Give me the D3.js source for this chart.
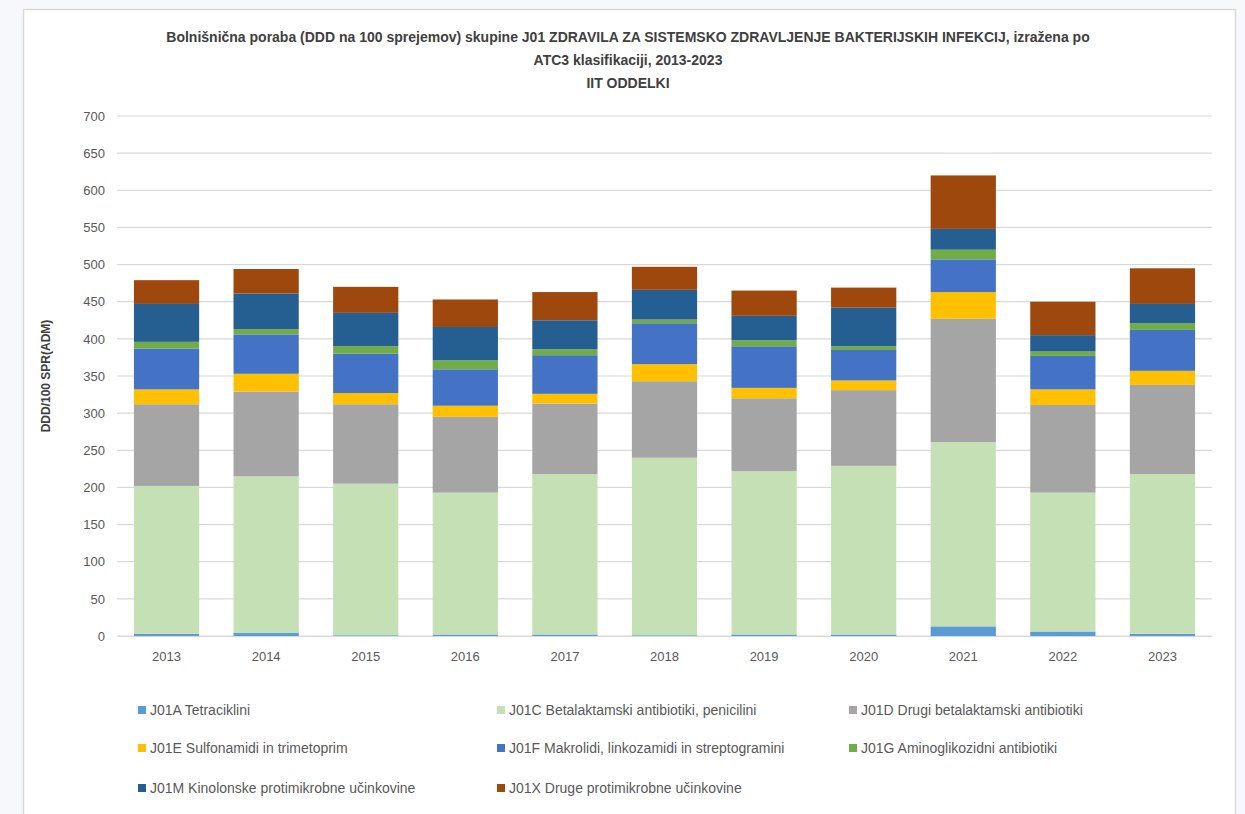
<!DOCTYPE html>
<html>
<head>
<meta charset="utf-8">
<script src="https://cdn.jsdelivr.net/npm/d3@7"></script>
<style>
html,body{margin:0;padding:0;background:#f6f8fb;}
svg{display:block;}
text{font-family:"Liberation Sans Narrow","Liberation Sans",Arial,sans-serif;}
</style>
</head>
<body>
<svg id="chart" width="1245" height="814"></svg>
<script>
const years = ["2013","2014","2015","2016","2017","2018","2019","2020","2021","2022","2023"];
const seriesNames = [
  "J01A Tetraciklini",
  "J01C Betalaktamski antibiotiki, penicilini",
  "J01D Drugi betalaktamski antibiotiki",
  "J01E Sulfonamidi in trimetoprim",
  "J01F Makrolidi, linkozamidi in streptogramini",
  "J01G Aminoglikozidni antibiotiki",
  "J01M Kinolonske protimikrobne učinkovine",
  "J01X Druge protimikrobne učinkovine"
];
const J01A = [3, 4, 1, 2, 2, 1, 2, 2, 13, 6, 3];
const J01C = [199, 211, 204, 191, 216, 239, 220, 227, 248, 187, 215];
const J01D = [110, 114, 107, 102, 95, 103, 98, 102, 166, 118, 120];
const J01E = [20, 24, 15, 15, 13, 23, 14, 13, 36, 21, 19];
const J01F = [55, 53, 53, 49, 52, 55, 56, 41, 44, 45, 55];
const J01G = [9, 7, 10, 12, 8, 5, 8, 5, 13, 6, 9];
const J01M = [51, 48, 45, 45, 39, 40, 33, 52, 28, 22, 26];
const J01X = [32, 33, 35, 37, 38, 31, 34, 27, 72, 45, 48];
const yTicks = [0,50,100,150,200,250,300,350,400,450,500,550,600,650,700];
const colors = ["#5b9bd5","#c5e0b4","#a5a5a5","#ffc000","#4472c4","#70ad47","#255e91","#9e480e"];

const seriesValues = [J01A,J01C,J01D,J01E,J01F,J01G,J01M,J01X];
const keys = seriesNames.map((d,i)=>"s"+i);
const table = years.map((y,j)=>{
  const row = {year:y};
  seriesValues.forEach((arr,i)=>row["s"+i]=arr[j]);
  return row;
});

const svg = d3.select("#chart");
// frame
svg.append("rect").attr("x",23.5).attr("y",9.5).attr("width",1212).attr("height",820)
  .attr("fill","#ffffff").attr("stroke","#d9d9d9").attr("stroke-width",1.5);

const margin = {left:117, right:1212, top:116, bottom:636};
const x = d3.scaleBand().domain(years).range([margin.left, margin.right]).paddingInner(0.345).paddingOuter(0.17);
const y = d3.scaleLinear().domain([0,700]).range([margin.bottom, margin.top]);

// gridlines
svg.append("g").selectAll("line").data(yTicks).join("line")
  .attr("x1",margin.left).attr("x2",margin.right)
  .attr("y1",d=>y(d)).attr("y2",d=>y(d))
  .attr("stroke","#d9d9d9").attr("stroke-width",1.2);

// y axis
const yAxis = svg.append("g").attr("transform",`translate(${margin.left},0)`)
  .call(d3.axisLeft(y).tickValues(yTicks).tickSize(0).tickPadding(12));
yAxis.select(".domain").remove();
yAxis.selectAll("text").attr("fill","#595959").style("font-size","13px").style("font-family","'Liberation Sans',Arial,sans-serif");

// x axis
const xAxis = svg.append("g").attr("transform",`translate(0,${margin.bottom})`)
  .call(d3.axisBottom(x).tickSize(0).tickPadding(16));
xAxis.select(".domain").attr("stroke","#d9d9d9");
xAxis.selectAll("text").attr("fill","#595959").style("font-size","13px").style("font-family","'Liberation Sans',Arial,sans-serif");

// stacked bars
const stacked = d3.stack().keys(keys)(table);
svg.append("g").selectAll("g").data(stacked).join("g")
  .attr("fill",(d,i)=>colors[i])
  .selectAll("rect").data(d=>d).join("rect")
  .attr("x",d=>x(d.data.year))
  .attr("width",x.bandwidth())
  .attr("y",d=>y(d[1]))
  .attr("height",d=>y(d[0])-y(d[1]));

// title
const titleLines = [
  "Bolnišnična poraba (DDD na 100 sprejemov) skupine J01 ZDRAVILA ZA SISTEMSKO ZDRAVLJENJE BAKTERIJSKIH INFEKCIJ, izražena po",
  "ATC3 klasifikaciji, 2013-2023",
  "IIT ODDELKI"
];
svg.append("g").selectAll("text").data(titleLines).join("text")
  .attr("x",628).attr("y",(d,i)=>42+i*23)
  .attr("text-anchor","middle").attr("fill","#404040")
  .style("font-size","14px").style("font-weight","bold")
  .text(d=>d);

// y axis title
svg.append("text")
  .attr("transform","translate(50,376) rotate(-90)")
  .attr("text-anchor","middle").attr("fill","#404040")
  .style("font-size","12px").style("font-weight","bold")
  .text("DDD/100 SPR(ADM)");

// legend
const legX = [138, 497, 849];
const legY = [711, 749, 789];
const leg = svg.append("g").selectAll("g").data(seriesNames).join("g")
  .attr("transform",(d,i)=>`translate(${legX[i%3]},${legY[Math.floor(i/3)]})`);
leg.append("rect").attr("x",0).attr("y",-5).attr("width",8).attr("height",8).attr("fill",(d,i)=>colors[i]);
leg.append("text").attr("x",12).attr("y",4).attr("fill","#595959")
  .style("font-size","14px").text(d=>d);
</script>
</body>
</html>
